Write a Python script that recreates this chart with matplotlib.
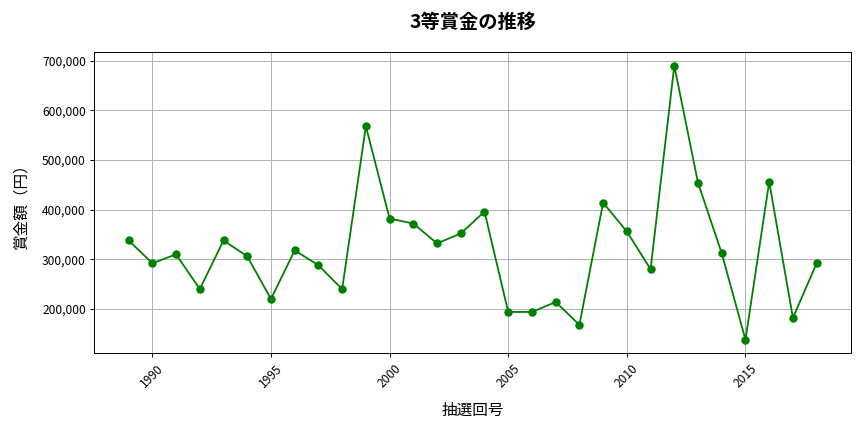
import matplotlib
matplotlib.use("Agg")
import matplotlib.pyplot as plt
from matplotlib.ticker import FuncFormatter

plt.rcParams['font.family'] = ['Noto Sans CJK JP', 'DejaVu Sans']

years = list(range(1989, 2019))
prizes = [338000, 292000, 310000, 240000, 338000, 306000, 220000, 318000, 288000, 240000,
          568000, 382000, 372000, 332000, 352000, 396000, 194000, 194000, 214000, 168000,
          414000, 356000, 280000, 690000, 454000, 312000, 138000, 456000, 182000, 292000]

fig, ax = plt.subplots(figsize=(10, 5), dpi=86.4)
ax.plot(years, prizes, marker='o', color='green', linewidth=1.5, markersize=6)
ax.set_title('3等賞金の推移', fontsize=16, fontweight='bold', pad=20)
ax.set_xlabel('抽選回号', fontsize=13, labelpad=10)
ax.set_ylabel('賞金額（円）', fontsize=13, labelpad=10)
ax.yaxis.set_major_formatter(FuncFormatter(lambda v, p: f'{int(v):,}'))
ax.grid(True, color='#b0b0b0', linewidth=0.8)
plt.setp(ax.get_xticklabels(), rotation=45)
fig.tight_layout()
fig.savefig('out.png', dpi=86.4)
